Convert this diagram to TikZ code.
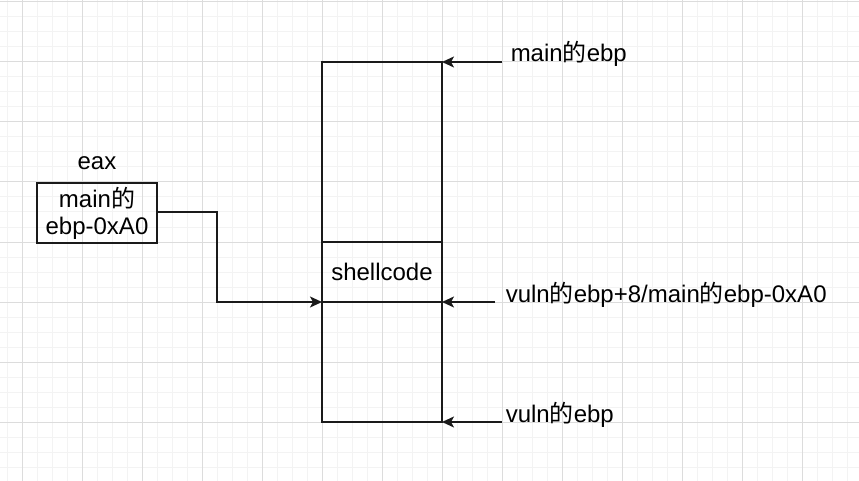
\documentclass[tikz,border=0pt]{standalone}
\usepackage{fontspec}
\setmainfont{Liberation Sans}
\newfontfamily\cjk{Noto Sans CJK SC}
\usetikzlibrary{arrows.meta, positioning}
\definecolor{cline}{HTML}{1A1A1A}
\definecolor{cmajor}{HTML}{DCDCDC}
\definecolor{cminor}{HTML}{F3F3F3}
\newcommand{\zhde}{{\cjk 的}}
\tikzset{
  every picture/.style={line width=1.5pt},
  every node/.style={font=\fontsize{24}{27}\selectfont},
  cell/.style={draw=cline, minimum width=120pt, minimum height=#1, inner sep=0pt, outer sep=0pt},
  ptr/.style={-{Stealth[length=12pt, width=11pt, inset=3pt]}, draw=cline},
  tag/.style={anchor=base west, inner sep=0pt},
  gridline/.style={draw=#1, line width=1pt},
}

\begin{document}
\begin{tikzpicture}[x=1pt, y=-1pt]
  \useasboundingbox (0,0) rectangle (859,481);
  \clip (0,0) rectangle (859,481);
  \foreach \i in {0,...,57} \draw[gridline=cminor] (7+15*\i,0) -- (7+15*\i,481);
  \foreach \j in {0,...,32} \draw[gridline=cminor] (0,2+15*\j) -- (859,2+15*\j);
  \foreach \i in {0,...,14} \draw[gridline=cmajor] (22+60*\i,0) -- (22+60*\i,481);
  \foreach \j in {0,...,8} \draw[gridline=cmajor] (0,2+60*\j) -- (859,2+60*\j);

  \node[cell=180pt] (upper) at (382,152) {};
  \node[cell=60pt, below=0pt of upper] (shell) {shellcode};
  \node[cell=120pt, below=0pt of shell] (lower) {};

  \node[cell=60pt, align=center] (eaxval) at (97,213) {main\zhde\\ebp-0xA0};
  \node[inner sep=0pt, above=12.5pt of eaxval] (eaxlbl) {eax};
  \coordinate (elbow) at (217,212);
  \draw[ptr] (elbow -| eaxval.east) -- (elbow) |- (shell.south west);

  \coordinate (t1) at (502,62);
  \coordinate (t2) at (495,302);
  \coordinate (t3) at (502,422);
  \draw[ptr] (t1) -- (upper.north east);
  \draw[ptr] (t2) -- (shell.south east);
  \draw[ptr] (t3) -- (lower.south east);
  \node[tag] (l1) at (510,62) {main\zhde ebp};
  \node[tag] (l2) at (505,302) {vuln\zhde ebp+8/main\zhde ebp-0xA0};
  \node[tag] (l3) at (505,422) {vuln\zhde ebp};
\end{tikzpicture}
\end{document}
